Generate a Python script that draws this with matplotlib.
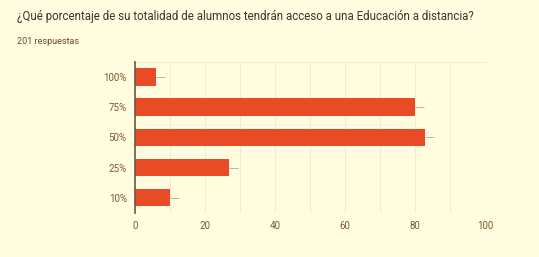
import matplotlib.pyplot as plt

# datos
categorias = ['10%', '25%', '50%', '75%', '100%']
respuestas = [10, 27, 83, 80, 6]
ticks_x = [0, 20, 40, 60, 80, 100]

titulo = '¿Qué porcentaje de su totalidad de alumnos tendrán acceso a una Educación a distancia?'
subtitulo = '201 respuestas'

fondo = '#fffcdf'
barra = '#e84b25'
texto = '#7a5c34'

plt.rcParams['font.family'] = ['Roboto', 'DejaVu Sans']

fig = plt.figure(figsize=(5.39, 2.57), dpi=100, facecolor=fondo)
ax = fig.add_axes([0.2505, 0.172, 0.649, 0.587], facecolor=fondo)

pos = list(range(len(categorias)))
ax.barh(pos, respuestas, height=0.58, color=barra, zorder=3)
# pequeña línea gris al final de cada barra
ax.hlines(pos, respuestas, [r + 2.5 for r in respuestas], color='#b8a890', linewidth=0.6, zorder=2)

ax.set_xlim(0, 100)
ax.set_ylim(-0.5, 4.5)
ax.set_yticks(pos)
ax.set_yticklabels(categorias)
ax.set_xticks(ticks_x)
ax.set_xticks(range(0, 101, 10), minor=True)
ax.tick_params(axis='both', length=0, labelsize=7, colors=texto, pad=6)
ax.tick_params(axis='x', which='minor', length=0)
ax.grid(axis='x', which='both', color='#f3edd0', linewidth=0.8, zorder=0)

for lado in ['right', 'bottom']:
    ax.spines[lado].set_visible(False)
ax.spines['top'].set_color('#f3edd0')
ax.spines['left'].set_color('#6b5a3c')
ax.spines['left'].set_linewidth(1.2)
ax.spines['left'].set_zorder(4)

fig.text(0.032, 0.934, titulo, fontsize=8.3, color='#3a3530', va='center', ha='left')
fig.text(0.032, 0.84, subtitulo, fontsize=6.5, color='#6a4f2a', va='center', ha='left')

fig.savefig('out.png', dpi=100, facecolor=fondo)
